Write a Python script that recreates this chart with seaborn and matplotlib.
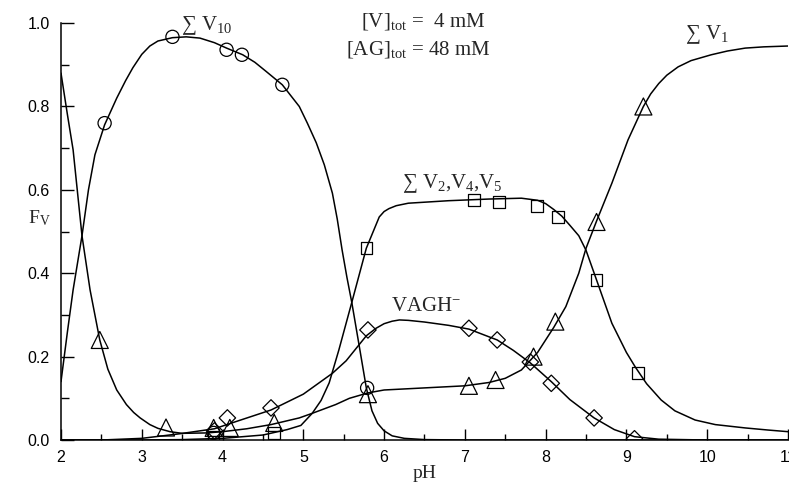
"""Vanadium species distribution vs pH ([V]tot = 4 mM, [AG]tot = 48 mM)."""

import matplotlib

matplotlib.use("Agg")
import matplotlib.pyplot as plt
import seaborn as sns
from matplotlib.ticker import MultipleLocator

# ---- curves (pH, fraction) ----
v10_ph = [2.00, 2.08, 2.15, 2.26, 2.34, 2.42, 2.54, 2.69, 2.80, 2.89, 3.00, 3.10, 3.20, 3.38, 3.55,
          3.72, 3.90, 4.05, 4.25, 4.40, 4.54, 4.74, 4.95, 5.05, 5.16, 5.26, 5.36, 5.42, 5.48, 5.54,
          5.60, 5.69, 5.78, 5.85, 5.92, 6.00, 6.10, 6.25, 6.50, 7.00, 11.0]
v10_f = [0.14, 0.26, 0.36, 0.49, 0.60, 0.684, 0.756, 0.82, 0.862, 0.893, 0.925, 0.945, 0.957, 0.965, 0.967,
         0.964, 0.953, 0.94, 0.924, 0.906, 0.884, 0.852, 0.80, 0.76, 0.713, 0.66, 0.592, 0.53, 0.456, 0.39,
         0.33, 0.228, 0.125, 0.07, 0.04, 0.022, 0.01, 0.004, 0.001, 0.0, 0.0]

v1_ph = [2.00, 2.08, 2.15, 2.26, 2.36, 2.48, 2.58, 2.69, 2.81, 2.90, 2.98, 3.10, 3.20, 3.35, 3.50,
         3.80, 4.00, 4.30, 4.60, 4.95, 5.11, 5.40, 5.57, 5.80, 6.00, 6.50, 7.00, 7.30, 7.50, 7.70,
         7.90, 8.10, 8.25, 8.41, 8.50, 8.63, 8.82, 9.02, 9.21, 9.30, 9.40, 9.50, 9.64, 9.80, 10.05,
         10.25, 10.47, 10.70, 11.0]
v1_f = [0.88, 0.78, 0.696, 0.49, 0.36, 0.24, 0.17, 0.12, 0.085, 0.066, 0.053, 0.037, 0.028, 0.02, 0.016,
        0.017, 0.02, 0.027, 0.037, 0.053, 0.064, 0.085, 0.10, 0.113, 0.12, 0.125, 0.13, 0.138, 0.148, 0.168,
        0.21, 0.27, 0.32, 0.40, 0.46, 0.525, 0.616, 0.72, 0.80, 0.83, 0.855, 0.875, 0.895, 0.91, 0.924,
        0.933, 0.94, 0.943, 0.945]

v245_ph = [2.00, 3.00, 3.50, 4.00, 4.50, 4.80, 4.97, 5.11, 5.22, 5.32, 5.44, 5.60, 5.78, 5.94, 6.00,
           6.06, 6.15, 6.30, 6.80, 7.30, 7.70, 7.90, 8.00, 8.10, 8.20, 8.30, 8.41, 8.50, 8.63, 8.82,
           9.00, 9.11, 9.25, 9.43, 9.60, 9.85, 10.10, 10.47, 10.75, 11.0]
v245_f = [0.0, 0.0, 0.001, 0.004, 0.012, 0.025, 0.035, 0.064, 0.095, 0.137, 0.216, 0.33, 0.46, 0.535, 0.548,
          0.555, 0.562, 0.568, 0.574, 0.578, 0.58, 0.575, 0.567, 0.553, 0.537, 0.515, 0.49, 0.455, 0.384, 0.28,
          0.21, 0.175, 0.135, 0.096, 0.07, 0.048, 0.037, 0.029, 0.024, 0.02]

vagh_ph = [2.00, 2.50, 3.00, 3.47, 3.90, 4.10, 4.60, 5.00, 5.36, 5.53, 5.78, 5.90, 6.00, 6.10, 6.19,
           6.30, 6.50, 6.80, 7.05, 7.40, 7.60, 7.81, 8.07, 8.30, 8.60, 8.85, 9.10, 9.40, 10.0, 11.0]
vagh_f = [0.0, 0.0, 0.004, 0.015, 0.027, 0.04, 0.072, 0.11, 0.16, 0.19, 0.25, 0.268, 0.279, 0.285, 0.288,
          0.287, 0.283, 0.275, 0.266, 0.24, 0.215, 0.185, 0.14, 0.097, 0.053, 0.025, 0.008, 0.002, 0.0, 0.0]

# ---- experimental points ----
circle_ph = [2.54, 3.38, 4.05, 4.24, 4.74, 5.79, 3.89]
circle_f = [0.76, 0.967, 0.936, 0.924, 0.852, 0.125, 0.017]

triangle_ph = [2.48, 3.30, 3.89, 4.09, 4.64, 5.80, 7.05, 7.38, 7.85, 8.12, 8.63, 9.21]
triangle_f = [0.24, 0.03, 0.029, 0.029, 0.041, 0.11, 0.13, 0.144, 0.20, 0.284, 0.523, 0.80]

square_ph = [3.89, 4.64, 5.78, 7.11, 7.42, 7.89, 8.15, 8.63, 9.14]
square_f = [0.007, 0.017, 0.46, 0.576, 0.571, 0.561, 0.535, 0.384, 0.16]

diamond_ph = [3.90, 4.06, 4.60, 5.80, 7.05, 7.40, 7.81, 8.07, 8.60, 9.10]
diamond_f = [0.022, 0.053, 0.077, 0.264, 0.268, 0.24, 0.187, 0.136, 0.053, 0.003]

sns.set_style("ticks")
plt.rcParams["mathtext.fontset"] = "custom"
plt.rcParams["mathtext.rm"] = "Liberation Serif"
plt.rcParams["mathtext.it"] = "Liberation Serif:italic"
plt.rcParams["mathtext.bf"] = "Liberation Serif:bold"
SERIF = ["Liberation Serif", "DejaVu Serif"]

fig = plt.figure(figsize=(7.89, 4.82), dpi=100)
ax = fig.add_axes([0.0773, 0.0871, 0.9214, 0.865])

for xs, ys in [(v10_ph, v10_f), (v1_ph, v1_f), (v245_ph, v245_f), (vagh_ph, vagh_f)]:
    sns.lineplot(x=xs, y=ys, sort=False, estimator=None, color="black", linewidth=1.1, ax=ax)

marker_sets = [
    (circle_ph, circle_f, "o", 90),
    (triangle_ph, triangle_f, "^", 150),
    (square_ph, square_f, "s", 70),
    (diamond_ph, diamond_f, "D", 70),
]
for xs, ys, mk, size in marker_sets:
    sns.scatterplot(x=xs, y=ys, marker=mk, s=size, facecolor="none", edgecolor="black",
                    linewidth=0.9, ax=ax, zorder=3)

ax.set_xlim(2, 11)
ax.set_ylim(0, 1.0)
ax.xaxis.set_major_locator(MultipleLocator(1))
ax.xaxis.set_minor_locator(MultipleLocator(0.5))
ax.yaxis.set_major_locator(MultipleLocator(0.2))
ax.yaxis.set_minor_locator(MultipleLocator(0.1))
ax.yaxis.set_major_formatter(lambda v, _: f"{v:.1f}")
ax.tick_params(axis="both", which="both", direction="in", width=1.0, colors="black",
               labelsize=11.5, bottom=True, left=True, top=False, right=False)
ax.tick_params(axis="y", which="major", length=9, pad=8)
ax.tick_params(axis="y", which="minor", length=5.5)
ax.tick_params(axis="x", which="major", length=8, pad=7)
ax.tick_params(axis="x", which="minor", length=4.5)
for lab in ax.get_xticklabels() + ax.get_yticklabels():
    lab.set_family("Liberation Sans")
for side in ["top", "right"]:
    ax.spines[side].set_visible(False)
for side in ["left", "bottom"]:
    ax.spines[side].set_color("black")
    ax.spines[side].set_linewidth(1.1)

ax.set_xlabel("pH", family=SERIF, fontsize=14, labelpad=0)
fig.text(0.036, 0.548, r"F$_\mathrm{V}$", family=SERIF, fontsize=14, ha="left", va="center")

text_kw = dict(family=SERIF, fontsize=15, ha="left", va="center")
ax.text(3.49, 0.995, r"∑ V$_{10}$", **text_kw)
ax.text(5.72, 1.003, r"[V]$_\mathrm{tot}$ =  4 mM", **text_kw)
ax.text(5.53, 0.936, r"[AG]$_\mathrm{tot}$ = 48 mM", **text_kw)
ax.text(9.73, 0.972, r"∑ V$_1$", **text_kw)
ax.text(6.22, 0.616, r"∑ V$_2$,V$_4$,V$_5$", **text_kw)
ax.text(6.09, 0.32, r"VAGH$^{-}$", **text_kw)

fig.savefig("out.png", dpi=100)
plt.close(fig)
